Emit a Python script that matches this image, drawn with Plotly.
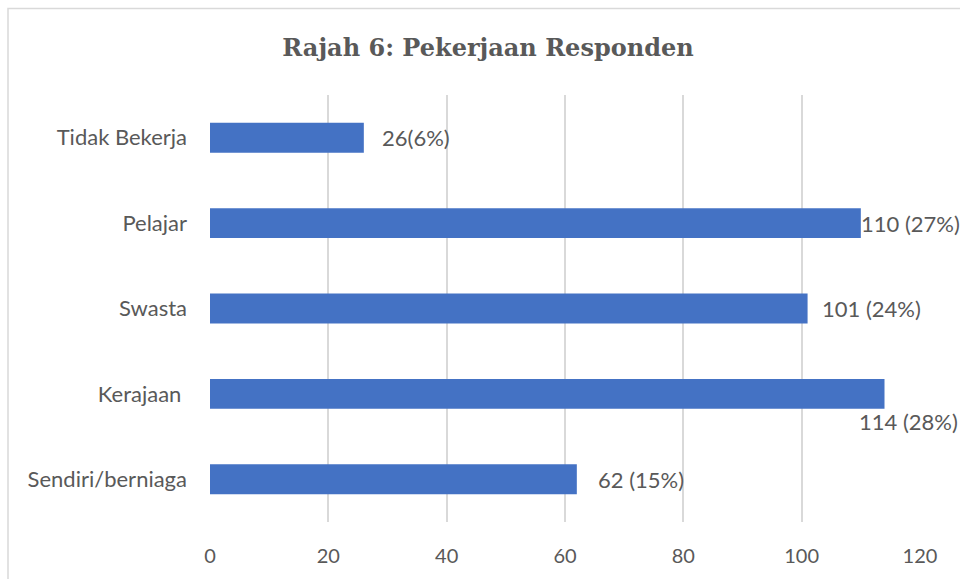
import plotly.graph_objects as go

categories = ["Sendiri/berniaga", "Kerajaan\u00a0", "Swasta", "Pelajar", "Tidak Bekerja"]
values = [62, 114, 101, 110, 26]
labels = ["62 (15%)", "114 (28%)", "101 (24%)", "110 (27%)", "26(6%)"]
label_xshift = [19, -28, 12, -2, 16]
label_yshift = [0, -28, 0, 0, 0]
tick_vals = [0, 20, 40, 60, 80, 100, 120]

TXT = "#595959"
FONT = "Lato"

fig = go.Figure()
fig.add_trace(go.Bar(
    y=categories, x=values, orientation="h",
    marker=dict(color="#4472C4", line=dict(width=0)),
    width=0.35, hoverinfo="x+y",
))

for c, v, t, dx, dy in zip(categories, values, labels, label_xshift, label_yshift):
    fig.add_annotation(x=v, y=c, text=t, showarrow=False, xanchor="left",
                       yanchor="middle", xshift=dx, yshift=dy,
                       font=dict(family=FONT, size=22, color=TXT))

W, H = 960, 579
L, R, T, B = 210, 40, 95, 57
pw, ph = W - L - R, H - T - B
fig.add_shape(type="rect", xref="paper", yref="paper",
              x0=(8 - L) / pw, x1=1.3, y0=-0.3, y1=1 + (T - 8.5) / ph,
              line=dict(color="#D9D9D9", width=1.5), layer="below")

fig.update_layout(
    width=W, height=H,
    margin=dict(l=L, r=R, t=T, b=B),
    paper_bgcolor="white", plot_bgcolor="white",
    showlegend=False,
    title=dict(text="<b>Rajah 6: Pekerjaan Responden</b>", x=488 / W, xanchor="center",
               y=1 - 48 / H, yanchor="middle", yref="container",
               font=dict(family="DejaVu Serif", size=24, color=TXT)),
    xaxis=dict(range=[0, 120], tickvals=tick_vals, showgrid=True, gridcolor="#D9D9D9",
               gridwidth=1.5, zeroline=False, showline=False, ticks="",
               tickfont=dict(family=FONT, size=20, color=TXT), ticklabelstandoff=20),
    yaxis=dict(categoryorder="array", categoryarray=categories, showgrid=False,
               zeroline=False, showline=False, ticks="",
               tickfont=dict(family=FONT, size=22, color=TXT), ticklabelstandoff=22),
    bargap=0.65,
)

fig.write_html("out.html", config={"displayModeBar": False},
               post_script="document.body.style.margin='0px';document.body.style.overflow='hidden';")
